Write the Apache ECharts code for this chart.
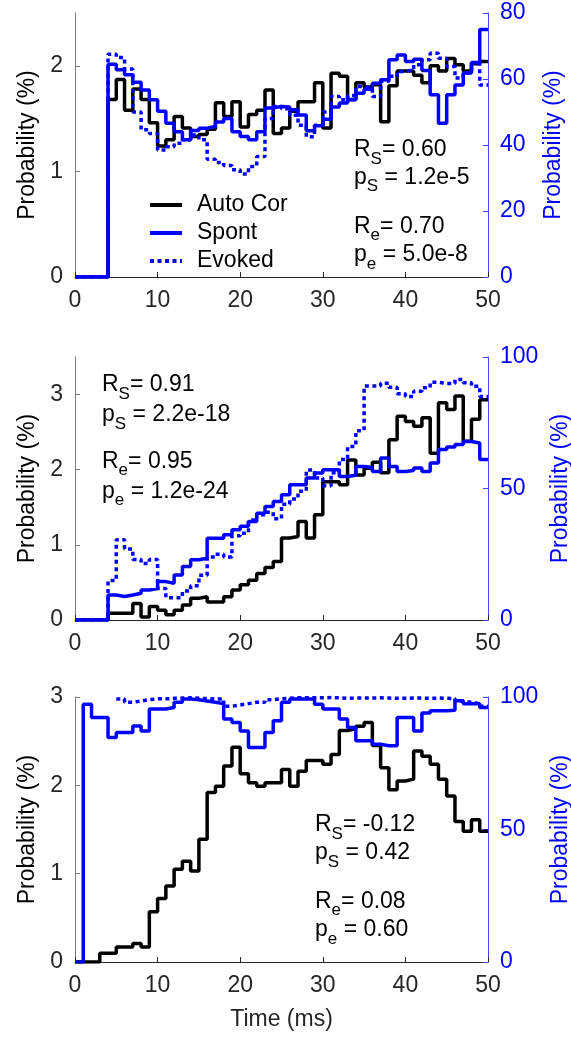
<!DOCTYPE html>
<html>
<head>
<meta charset="utf-8">
<script src="https://cdn.jsdelivr.net/npm/echarts@6/dist/echarts.min.js"></script>
<style>
  html, body { margin: 0; padding: 0; background: #fff; }
  #chart { width: 571px; height: 1043px; }
</style>
</head>
<body>
<div id="chart"></div>
<script>
// ---- bins (ms) ----
const binStart = [0,1,2,3,4,5,6,7,8,9,10,11,12,13,14,15,16,17,18,19,20,21,22,23,24,
                  25,26,27,28,29,30,31,32,33,34,35,36,37,38,39,40,41,42,43,44,45,46,47,48,49];
const binWidth = 1;
const xTicks = [0, 10, 20, 30, 40, 50];

// ---- panel A: auto-correlation (left %, 0-2.5) and response probabilities (right %, 0-80) ----
const autoA = [0,0,0,0,1.68,1.87,1.58,1.78,1.68,1.46,1.24,1.30,1.52,1.41,1.33,1.35,1.40,1.65,1.52,1.66,
               1.42,1.54,1.58,1.77,1.36,1.41,1.57,1.66,1.66,1.84,1.41,1.93,1.90,1.68,1.84,1.80,1.82,1.47,1.81,1.95,
               1.95,1.91,1.84,2.00,1.95,2.07,2.01,1.95,2.02,2.04];
const spontA = [0,0,0,0,64.5,62.8,61.3,59,56.7,53.7,50.2,46.6,44,41.6,44.4,45.1,45.6,47,48,44,
                42.6,41.6,44,51.2,51.7,51.5,50.7,49.1,44.3,45.8,47.8,51.5,52.7,53.7,55.7,56.9,58.7,59.8,65.8,67.3,
                65.3,66,62.6,55.2,46.6,55.2,58.2,61.8,65,75];
const evokedA = [0,0,0,0,67.5,66.5,63,50,44.6,43.5,38.5,39.5,40.5,41.6,43,41.6,35.7,34.7,33.8,32.5,
                 31.2,33.5,36.5,48,51.7,51,49,46,42.5,46,50,54.7,53.7,55,57.7,57.2,54.7,59.3,60.8,62.3,
                 62.8,64.3,65.8,67.8,66.3,63.8,60.3,61.8,64.8,58.2];

// ---- panel B ----
const autoB = [0,0,0,0,0.09,0.09,0.09,0.22,0.04,0.18,0.13,0.07,0.13,0.20,0.29,0.31,0.24,0.24,0.31,0.40,
               0.47,0.53,0.62,0.70,0.78,1.09,1.11,1.31,1.09,1.40,1.84,1.84,1.80,2.13,1.93,2.02,2.10,1.96,2.40,2.71,
               2.64,2.58,2.69,2.22,2.89,2.80,2.98,2.38,2.67,2.93];
const spontB = [0,0,0,0,9.5,8.9,9.5,10.2,11.4,12,14.6,14,17.1,20.3,22.9,23.5,31.1,31.1,32.4,34.3,
                35.6,37.5,40.6,43.2,45.1,47.6,51.4,51.4,54,55.9,57.1,57.1,54.6,55,58.4,58,56.5,61.6,58.4,56.5,
                56.8,57.8,56.5,59.7,64.8,65.8,66.7,67.9,67.3,61];
const evokedB = [0,0,0,0,15,30.5,27,23,21.5,23,12,8.5,8.5,11,13,17,24,25,24,32,
                 33,38,40,41,38.5,44,46,49,57,54,51,56,61,66,72,89,89,90,88.5,86,
                 85,87,88.3,90.4,89.9,89.9,91.4,90.2,88.9,85];

// ---- panel C ----
const autoC = [0,0,0,0.10,0.10,0.17,0.17,0.21,0.17,0.57,0.72,0.86,1.05,1.14,1.03,1.39,1.92,1.99,2.22,2.43,
               2.13,2.03,1.99,2.03,2.03,2.18,1.99,2.16,2.28,2.28,2.24,2.35,2.62,2.64,2.67,2.71,2.45,2.20,1.95,2.05,
               2.07,2.39,2.33,2.24,2.07,1.88,1.59,1.48,1.61,1.48];
const spontC = [0,97.3,92.3,92.3,84.7,86.6,86.6,89.1,87.2,95.5,95.5,96,98,99.2,99,98.5,98,97.5,91.7,90.4,
                87.2,80.9,80.9,86.6,91,98,99.2,99.2,99.2,97.3,95.5,95.5,91.7,88.5,83.5,83.5,82.2,81.6,81.6,92.3,
                92.3,87.2,94,94.8,94.8,95,98.6,97.5,97.5,96];
const evokedC = [null,null,null,null,null,99.2,98,98.5,99,99.3,99.3,99.5,99.6,99.7,99.5,99.4,99.2,99.3,96.5,97,
                 97.5,98,98,99,99.3,99.5,99.7,99.7,99.7,99.7,99.8,99.7,99.5,99.6,99.6,99.6,99.7,99.6,99.5,99.5,
                 99.6,99.6,99.5,99.6,99.5,99.4,98.5,98,97.5,96.5];

// ---- axis ranges / ticks per panel ----
const leftMax = [2.5, 3.5, 3];
const leftTicks = [[0,1,2],[0,1,2,3],[0,1,2,3]];
const rightMax = [80, 100, 100];
const rightTicks = [[0,20,40,60,80],[0,50,100],[0,50,100]];

// ---- statistics text per panel: [symbol, subscript, remainder] ----
const statsA = [['R','S','= 0.60'],['p','S',' = 1.2e-5'],['R','e','= 0.70'],['p','e',' = 5.0e-8']];
const statsB = [['R','S','= 0.91'],['p','S',' = 2.2e-18'],['R','e','= 0.95'],['p','e',' = 1.2e-24']];
const statsC = [['R','S','= -0.12'],['p','S',' = 0.42'],['R','e','= 0.08'],['p','e',' = 0.60']];

const seriesNames = ['Auto Cor', 'Spont', 'Evoked'];

// ---- layout ----
const FONT = "'Liberation Sans', Arial, Helvetica, sans-serif";
const BLUE = '#0000ff';
const LINE_W = 3.5;
const grids = [
  { left: 75, right: 83, top: 13, height: 264 },
  { left: 75, right: 83, top: 357, height: 263 },
  { left: 75, right: 83, top: 697, height: 265 }
];
const statsPos = [
  { x: 354, ys: [150, 177.5, 226.5, 255], rows: statsA },
  { x: 102, ys: [385, 415, 461.5, 491.5], rows: statsB },
  { x: 315, ys: [825, 853, 901.5, 930], rows: statsC }
];

function stepData(vals) {
  const pts = binStart.map((t, i) => [t, vals[i]]);
  pts.push([binStart[binStart.length - 1] + binWidth, vals[vals.length - 1]]);
  return pts;
}

function histSeries(name, vals, g, yIdx, color, dashed) {
  return {
    name: name, type: 'line', step: 'end',
    xAxisIndex: g, yAxisIndex: yIdx,
    data: stepData(vals),
    showSymbol: false, symbol: 'none',
    connectNulls: false,
    lineStyle: { color: color, width: LINE_W, type: dashed ? [4, 3.5] : 'solid' },
    itemStyle: { color: color },
    emphasis: { disabled: true },
    silent: true
  };
}

const xAxes = [], yAxes = [], series = [];
const panelData = [[autoA, spontA, evokedA], [autoB, spontB, evokedB], [autoC, spontC, evokedC]];

grids.forEach((gr, g) => {
  const last = g === grids.length - 1;
  xAxes.push({
    type: 'value', gridIndex: g, min: 0, max: 50, interval: 10,
    name: last ? 'Time (ms)' : '', nameLocation: 'middle', nameGap: 46,
    nameTextStyle: { fontSize: 23, color: '#262626', fontFamily: FONT },
    axisLine: { show: true, onZero: false, lineStyle: { color: '#262626', width: 1 } },
    axisTick: { show: true, inside: true, length: 5, lineStyle: { color: '#262626' }, customValues: xTicks },
    axisLabel: { fontSize: 23, color: '#262626', fontFamily: FONT, margin: 12, customValues: xTicks },
    splitLine: { show: false }
  });
  yAxes.push({
    type: 'value', gridIndex: g, position: 'left', min: 0, max: leftMax[g], interval: 1,
    name: 'Probability (%)', nameLocation: 'middle', nameGap: 36, nameRotate: 90,
    nameTextStyle: { fontSize: 23, color: '#000', fontFamily: FONT },
    axisLine: { show: true, lineStyle: { color: '#7a7a7a', width: 1 } },
    axisTick: { show: true, inside: true, length: 5, lineStyle: { color: '#7a7a7a' }, customValues: leftTicks[g] },
    axisLabel: { fontSize: 23, color: '#262626', fontFamily: FONT, margin: 12, customValues: leftTicks[g],
                 formatter: v => (Number.isInteger(v) ? String(v) : '') },
    splitLine: { show: false }
  });
  yAxes.push({
    type: 'value', gridIndex: g, position: 'right', min: 0, max: rightMax[g], interval: rightTicks[g][1],
    name: 'Probability (%)', nameLocation: 'middle', nameGap: 54, nameRotate: 90,
    nameTextStyle: { fontSize: 23, color: BLUE, fontFamily: FONT },
    axisLine: { show: true, lineStyle: { color: '#4545ff', width: 1 } },
    axisTick: { show: true, inside: true, length: 5, lineStyle: { color: '#4545ff' }, customValues: rightTicks[g] },
    axisLabel: { fontSize: 23, color: BLUE, fontFamily: FONT, margin: 12, customValues: rightTicks[g] },
    splitLine: { show: false }
  });
  const [au, sp, ev] = panelData[g];
  series.push(histSeries(seriesNames[0], au, g, 2 * g, '#000000', false));
  series.push(histSeries(seriesNames[1], sp, g, 2 * g + 1, BLUE, false));
  series.push(histSeries(seriesNames[2], ev, g, 2 * g + 1, BLUE, true));
});

// statistics annotations with subscripts
const graphics = [];
statsPos.forEach(p => {
  p.rows.forEach((row, i) => {
    graphics.push({
      type: 'text', x: p.x, y: p.ys[i] - 11.5, silent: true,
      style: {
        text: '{m|' + row[0] + '}{s|' + row[1] + '}{m|' + row[2] + '}',
        align: 'left', verticalAlign: 'top',
        rich: {
          m: { fontSize: 23, fontFamily: FONT, fill: '#000', verticalAlign: 'top' },
          s: { fontSize: 17, fontFamily: FONT, fill: '#000', verticalAlign: 'top', padding: [12, 0, 0, 0] }
        }
      }
    });
  });
});

const chart = echarts.init(document.getElementById('chart'), null, { renderer: 'canvas' });
chart.setOption({
  animation: false,
  backgroundColor: '#ffffff',
  grid: grids.map(gr => Object.assign({ containLabel: false, outerBoundsMode: 'none' }, gr)),
  xAxis: xAxes,
  yAxis: yAxes,
  legend: {
    data: seriesNames, orient: 'vertical', left: 143, top: 188,
    itemWidth: 32, itemHeight: 14, itemGap: 4, selectedMode: false,
    itemStyle: { opacity: 0 },
    lineStyle: { width: 4 },
    textStyle: { fontSize: 23, color: '#000', fontFamily: FONT, lineHeight: 24, padding: [0, 0, 0, 10] }
  },
  graphic: graphics,
  series: series
});
</script>
</body>
</html>
